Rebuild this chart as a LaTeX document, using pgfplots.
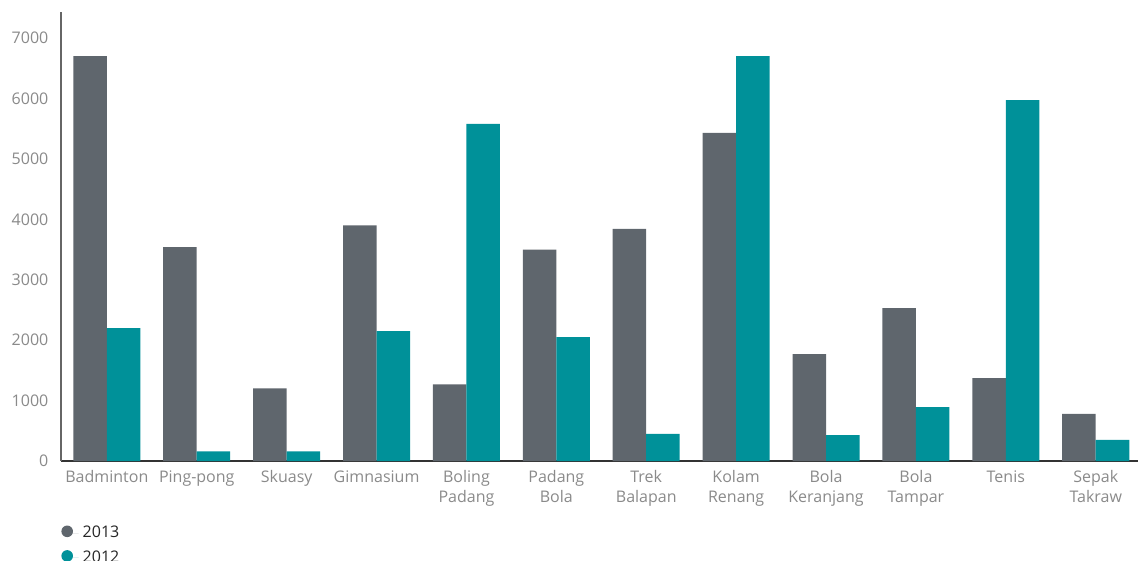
\documentclass[border=0pt]{standalone}
\usepackage{fontspec}
\setmainfont{Open Sans}
\usepackage{pgfplots}
\pgfplotsset{compat=1.18}
\definecolor{cA}{HTML}{5F666D}
\definecolor{cB}{HTML}{009199}
\definecolor{lab}{HTML}{8A8A8A}
\begin{document}
\begin{tikzpicture}
\begin{axis}[
 scale only axis, width=538.5pt, height=224.5pt,
 xmin=-0.51, xmax=11.47, ymin=0, ymax=7430,
 ybar=0pt, bar width=16.75pt,
 axis x line=bottom, axis y line=left,
 x axis line style={-, line width=0.8pt, draw=black!80},
 y axis line style={-, line width=0.8pt, draw=black!60},
 ytick={0,1000,...,7000}, xtick={0,...,11},
 xticklabels={Badminton,Ping-pong,Skuasy,Gimnasium,{Boling\\Padang},{Padang\\Bola},{Trek\\Balapan},{Kolam\\Renang},{Bola\\Keranjang},{Bola\\Tampar},Tenis,{Sepak\\Takraw}},
 major tick length=0pt,
 tick label style={font=\fontsize{8}{10}\selectfont, text=lab},
 xticklabel style={align=center, anchor=north, yshift=-1.3pt},
 yticklabel style={xshift=-2.8pt},
 /pgf/number format/assume math mode=true,
 /pgf/number format/1000 sep={},
 legend style={at={(rel axis cs:0,-0.135)}, anchor=north west, draw=none, inner sep=0pt,
   font=\fontsize{8}{10}\selectfont, text=black!85, row sep=1pt},
 legend cell align=left,
 legend image code/.code={\fill[#1] (2pt,1pt) circle (2.9pt); \path (0pt,0pt) -- (7.75pt,0pt);},
]
\addplot[fill=cA, draw=none] coordinates {(0,6700) (1,3540) (2,1200) (3,3900) (4,1270) (5,3500) (6,3840) (7,5430) (8,1770) (9,2530) (10,1370) (11,780)};
\addplot[fill=cB, draw=none] coordinates {(0,2200) (1,160) (2,160) (3,2150) (4,5580) (5,2050) (6,450) (7,6700) (8,430) (9,890) (10,5970) (11,350)};
\legend{2013,2012}
\path (rel axis cs:-0.05664,-0.22049) coordinate (bl);
\path (rel axis cs:1,1.02673) coordinate (tr);
\end{axis}
\pgfresetboundingbox
\useasboundingbox (bl) rectangle (tr);
\end{tikzpicture}
\end{document}
